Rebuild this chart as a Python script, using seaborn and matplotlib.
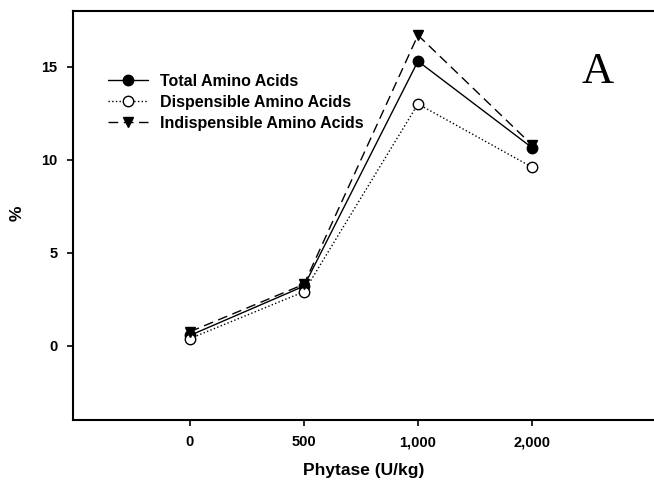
import matplotlib
matplotlib.use("Agg")
import matplotlib.pyplot as plt
import seaborn as sns
import pandas as pd
import numpy as np

categories = ["0", "500", "1,000", "2,000"]
total = [0.55, 3.2, 15.3, 10.65]
dispensable = [0.38, 2.9, 13.0, 9.6]
indispensable = [0.75, 3.3, 16.7, 10.8]
series_names = ["Total Amino Acids", "Dispensible Amino Acids", "Indispensible Amino Acids"]

sns.set_style("white")
plt.rcParams['font.family'] = ['Liberation Sans', 'DejaVu Sans']
plt.rcParams.update({"text.color": "black", "axes.labelcolor": "black",
                     "xtick.color": "black", "ytick.color": "black"})

fig = plt.figure(figsize=(6.54, 4.92), dpi=100)
ax = fig.add_axes([73/654, 72/492, 1 - 73/654, (420-11)/492])

pos = np.arange(len(categories))
styles = [
    dict(marker="o", linestyle="-", markerfacecolor="black"),
    dict(marker="o", linestyle=":", markerfacecolor="white"),
    dict(marker="v", linestyle=(0, (7, 4)), markerfacecolor="black"),
]
for name, vals, st in zip(series_names, [total, dispensable, indispensable], styles):
    df = pd.DataFrame({"x": pos, "y": vals})
    sns.lineplot(data=df, x="x", y="y", ax=ax, color="black", linewidth=1.0,
                 marker=st["marker"], linestyle=st["linestyle"],
                 markerfacecolor=st["markerfacecolor"], markeredgecolor="black",
                 markersize=7.5, markeredgewidth=1.0, label=name)

ax.set_xlim(-1.026, -1.026 + 581/114)
ax.set_ylim(-4, 18)
ax.set_xticks(pos)
ax.set_xticklabels(categories, fontweight="bold", fontsize=10.5, color="black")
ax.set_yticks([0, 5, 10, 15])
ax.set_yticklabels(["0", "5", "10", "15"], fontweight="bold", fontsize=10.5, color="black")
ax.tick_params(axis="both", direction="out", length=4, width=1.2, color="black",
               bottom=True, left=True, pad=7)
for side in ["left", "bottom", "top"]:
    ax.spines[side].set_visible(True)
    ax.spines[side].set_linewidth(1.5)
    ax.spines[side].set_color("black")
ax.spines["right"].set_visible(False)

ax.set_xlabel("Phytase (U/kg)", fontweight="bold", fontsize=12.5, labelpad=10, color="black")
ax.set_ylabel("%", fontweight="bold", fontsize=12.5, color="black")
ax.yaxis.set_label_coords(-0.084, 0.506)

leg = ax.legend(loc="upper left", bbox_to_anchor=(0.05, 0.862), frameon=False,
                prop=dict(weight="bold", size=11.5), handlelength=2.5,
                handletextpad=0.75, labelspacing=0.38, borderaxespad=0)
for t in leg.get_texts():
    t.set_color("black")

ax.text(598/654, 1 - 72/492, "A", transform=fig.transFigure, ha="center", va="center",
        fontsize=32, family="Liberation Serif", color="black")

fig.savefig("out.png", dpi=100)
